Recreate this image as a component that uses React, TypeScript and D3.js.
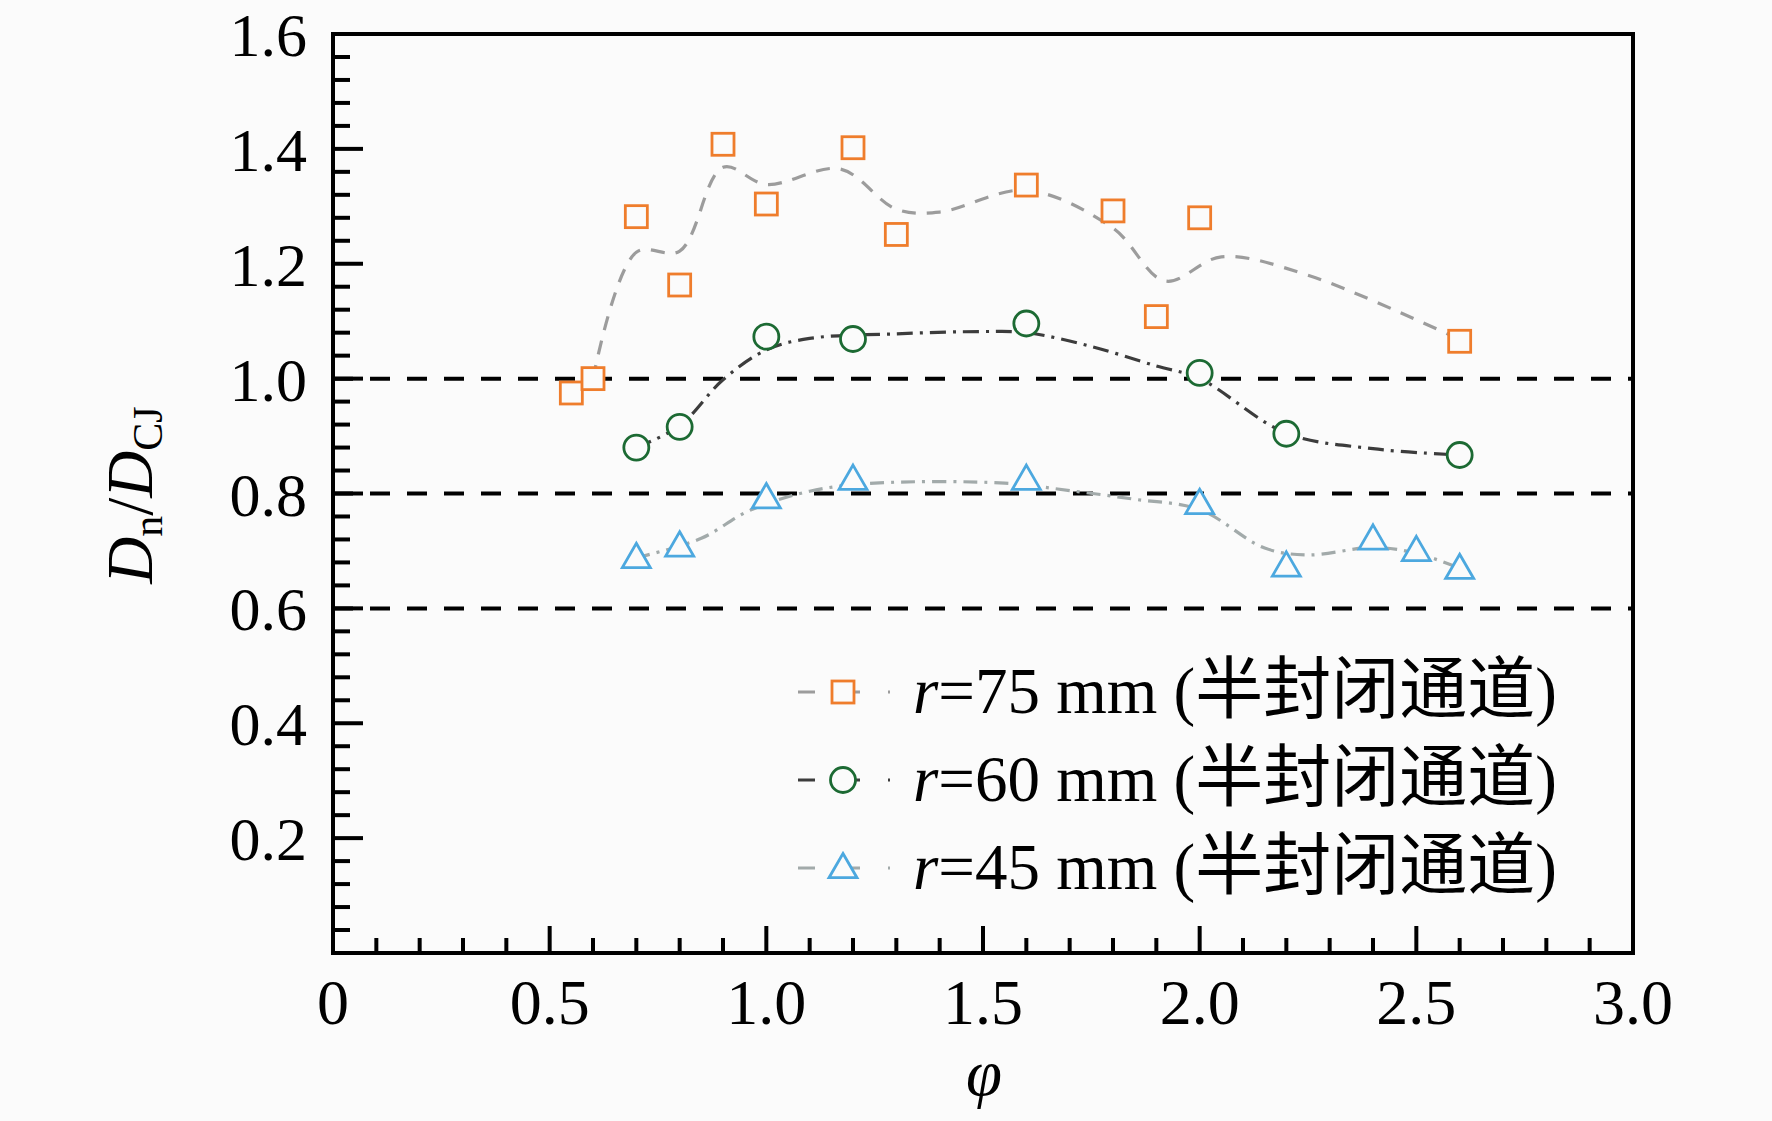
import React from 'react';
import * as d3 from 'd3';

// measured points
const phi75 = [0.55, 0.6, 0.7, 0.8, 0.9, 1.0, 1.2, 1.3, 1.6, 1.8, 1.9, 2.0, 2.6];
const dn75 = [0.975, 1.0, 1.282, 1.163, 1.408, 1.304, 1.402, 1.251, 1.337, 1.292, 1.108, 1.28, 1.065];
const phi60 = [0.7, 0.8, 1.0, 1.2, 1.6, 2.0, 2.2, 2.6];
const dn60 = [0.88, 0.916, 1.073, 1.069, 1.096, 1.01, 0.904, 0.867];
const phi45 = [0.7, 0.8, 1.0, 1.2, 1.6, 2.0, 2.2, 2.4, 2.5, 2.6];
const dn45 = [0.688, 0.708, 0.792, 0.824, 0.824, 0.782, 0.673, 0.72, 0.7, 0.669];

// smoothed trend curves
const fitPhi75 = [0.6, 0.7, 0.8, 0.9, 1.0, 1.17, 1.3, 1.4, 1.6, 1.8, 1.92, 2.05, 2.25, 2.6];
const fitDn75 = [1.0, 1.22, 1.222, 1.368, 1.338, 1.365, 1.295, 1.29, 1.328, 1.262, 1.17, 1.212, 1.18, 1.068];
const fitPhi60 = [0.7, 0.8, 0.9, 1.0, 1.1, 1.3, 1.5, 1.6, 1.75, 1.9, 2.0, 2.2, 2.4, 2.6];
const fitDn60 = [0.88, 0.918, 0.998, 1.05, 1.07, 1.078, 1.082, 1.08, 1.056, 1.022, 1.0, 0.905, 0.878, 0.867];
const fitPhi45 = [0.7, 0.85, 0.96, 1.1, 1.25, 1.55, 1.7, 1.85, 2.0, 2.15, 2.25, 2.4, 2.5, 2.6];
const fitDn45 = [0.688, 0.722, 0.77, 0.804, 0.818, 0.818, 0.805, 0.79, 0.772, 0.705, 0.693, 0.706, 0.696, 0.67];

const refLines = [1.0, 0.8, 0.6];
const xTickLabels = ['0', '0.5', '1.0', '1.5', '2.0', '2.5', '3.0'];
const yTickLabels = ['0.2', '0.4', '0.6', '0.8', '1.0', '1.2', '1.4', '1.6'];
const legendLabels = ['75', '60', '45'];

const W = 1772;
const H = 1121;
const left = 333;
const right = 1633;
const top = 34;
const bottom = 953;
const font = "'Liberation Serif', 'Times New Roman', 'Noto Sans CJK SC', serif";

const x = d3.scaleLinear().domain([0, 3]).range([left, right]);
const y = d3.scaleLinear().domain([0, 1.6]).range([bottom, top]);

const fitLine = d3
  .line<[number, number]>()
  .x((d) => x(d[0]))
  .y((d) => y(d[1]))
  .curve(d3.curveCatmullRom.alpha(0.5));

const zip = (a: number[], b: number[]) => a.map((v, i) => [v, b[i]] as [number, number]);

const series = [
  {
    pts: zip(phi75, dn75),
    fit: zip(fitPhi75, fitDn75),
    color: '#ef7d2c',
    lineColor: '#9c9c9c',
    dash: '14 11',
    shape: 'square',
  },
  {
    pts: zip(phi60, dn60),
    fit: zip(fitPhi60, fitDn60),
    color: '#1c6a33',
    lineColor: '#3c3c3c',
    dash: '16 7 3 7',
    shape: 'circle',
  },
  {
    pts: zip(phi45, dn45),
    fit: zip(fitPhi45, fitDn45),
    color: '#4ca8df',
    lineColor: '#a2aaaa',
    dash: '14 7 3 7',
    shape: 'triangle',
  },
];

const Marker: React.FC<{ shape: string; cx: number; cy: number; color: string }> = ({ shape, cx, cy, color }) => {
  const sw = 2.8;
  if (shape === 'square') {
    return <rect x={cx - 11} y={cy - 11} width={22} height={22} fill="#fbfbfb" stroke={color} strokeWidth={sw} />;
  }
  if (shape === 'circle') {
    return <circle cx={cx} cy={cy} r={12.5} fill="#fbfbfb" stroke={color} strokeWidth={sw} />;
  }
  const s = 28;
  const h = s * 0.866;
  const p = `M${cx},${cy - h * 0.6}L${cx + s / 2},${cy + h * 0.4}L${cx - s / 2},${cy + h * 0.4}Z`;
  return <path d={p} fill="#fbfbfb" stroke={color} strokeWidth={sw} />;
};

export default function App() {
  const yMinor = d3.range(0, 41).map((i) => i * 0.04);
  const xMinor = d3.range(0, 31).map((i) => i * 0.1);

  return (
    <svg width={W} height={H} style={{ position: 'absolute', left: 0, top: 0 }} fontFamily={font}>
      <rect width={W} height={H} fill="#fbfbfb" />

      {refLines.map((v) => (
        <line key={v} x1={left} x2={right} y1={y(v)} y2={y(v)} stroke="#000" strokeWidth={4} strokeDasharray="20 17" />
      ))}

      {series.map((s, i) => (
        <path key={i} d={fitLine(s.fit) || ''} fill="none" stroke={s.lineColor} strokeWidth={3.2} strokeDasharray={s.dash} />
      ))}

      {series.map((s, i) => (
        <g key={i}>
          {s.pts.map((d, j) => (
            <Marker key={j} shape={s.shape} cx={x(d[0])} cy={y(d[1])} color={s.color} />
          ))}
        </g>
      ))}

      {/* y ticks */}
      {yMinor.map((v, i) => (
        <line key={i} x1={left} x2={left + (i % 5 === 0 ? 30 : 17)} y1={y(v)} y2={y(v)} stroke="#000" strokeWidth={4} />
      ))}
      {/* x ticks */}
      {xMinor.map((v, i) => (
        <line key={i} x1={x(v)} x2={x(v)} y1={bottom} y2={bottom - (i % 5 === 0 ? 27 : 15)} stroke="#000" strokeWidth={4} />
      ))}

      <rect x={left} y={top} width={right - left} height={bottom - top} fill="none" stroke="#000" strokeWidth={4} />

      {yTickLabels.map((t) => (
        <text key={t} x={307} y={y(+t) + 22} textAnchor="end" fontSize={62}>
          {t}
        </text>
      ))}
      {xTickLabels.map((t) => (
        <text key={t} x={x(+t)} y={1024} textAnchor="middle" fontSize={64}>
          {t}
        </text>
      ))}

      <text x={984} y={1095} textAnchor="middle" fontSize={65} fontStyle="italic">
        φ
      </text>

      <text transform="translate(152,495) rotate(-90)" textAnchor="middle" fontSize={65}>
        <tspan fontStyle="italic">D</tspan>
        <tspan fontSize={42} dy={10}>n</tspan>
        <tspan dy={-10}>/</tspan>
        <tspan fontStyle="italic">D</tspan>
        <tspan fontSize={42} dy={10}>CJ</tspan>
      </text>

      {series.map((s, i) => {
        const base = 713 + i * 88;
        const cy = base - 21;
        return (
          <g key={i}>
            <line x1={798} x2={890} y1={cy} y2={cy} stroke={s.lineColor} strokeWidth={3} strokeDasharray="17 28" />
            <Marker shape={s.shape} cx={843} cy={cy} color={s.color} />
            <text x={913} y={base} fontSize={65}>
              <tspan fontStyle="italic">r</tspan>={legendLabels[i]} mm (<tspan fontSize={68}>半封闭通道</tspan>)
            </text>
          </g>
        );
      })}
    </svg>
  );
}
